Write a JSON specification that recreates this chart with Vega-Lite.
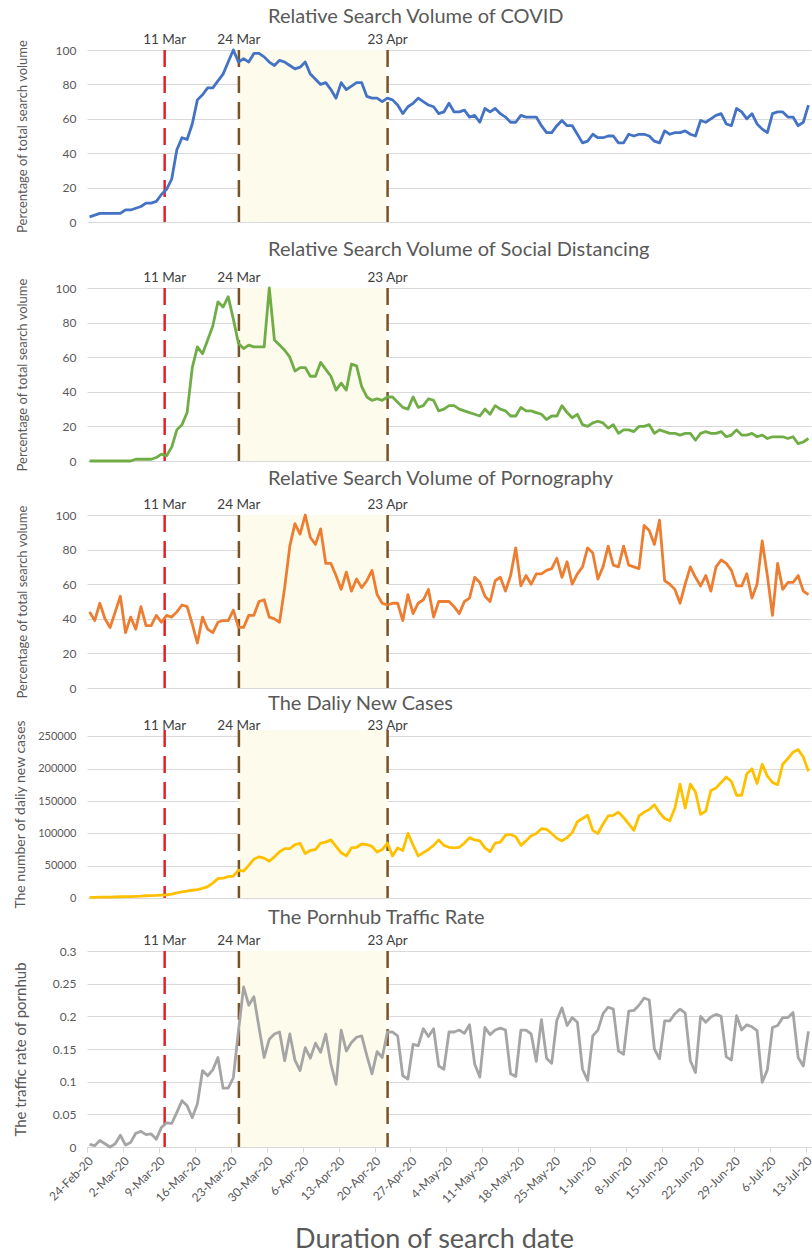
{
"$schema": "https://vega.github.io/schema/vega-lite/v6.json",
"background": "white",
"padding": {"left": 12, "top": 7, "right": 0, "bottom": 0},
"spacing": -5,
"config": {"font": "Lato", "view": {"stroke": null}},
"datasets": {
"events": [
{"label": "11 Mar", "at": "2020-03-10T03:00:00", "kind": "red"},
{"label": "24 Mar", "at": "2020-03-24T14:00:00", "kind": "brown"},
{"label": "23 Apr", "at": "2020-04-22T13:00:00", "kind": "brown"}
],
"shade": [{"start": "2020-03-24T14:00:00", "end": "2020-04-22T13:00:00"}],
"series": [
{"date":"2020-02-24","covid":3,"social":0,"porn":44,"cases":1000,"traffic":0.004},
{"date":"2020-02-25","covid":4,"social":0,"porn":39,"cases":1000,"traffic":0.002},
{"date":"2020-02-26","covid":5,"social":0,"porn":49,"cases":1200,"traffic":0.010},
{"date":"2020-02-27","covid":5,"social":0,"porn":40,"cases":1300,"traffic":0.005},
{"date":"2020-02-28","covid":5,"social":0,"porn":35,"cases":1500,"traffic":0.000},
{"date":"2020-02-29","covid":5,"social":0,"porn":44,"cases":1700,"traffic":0.005},
{"date":"2020-03-01","covid":5,"social":0,"porn":53,"cases":1900,"traffic":0.018},
{"date":"2020-03-02","covid":7,"social":0,"porn":32,"cases":2000,"traffic":0.003},
{"date":"2020-03-03","covid":7,"social":0,"porn":41,"cases":2100,"traffic":0.007},
{"date":"2020-03-04","covid":8,"social":1,"porn":34,"cases":2500,"traffic":0.021},
{"date":"2020-03-05","covid":9,"social":1,"porn":47,"cases":2800,"traffic":0.024},
{"date":"2020-03-06","covid":11,"social":1,"porn":36,"cases":3500,"traffic":0.019},
{"date":"2020-03-07","covid":11,"social":1,"porn":36,"cases":3700,"traffic":0.020},
{"date":"2020-03-08","covid":12,"social":2,"porn":42,"cases":4000,"traffic":0.012},
{"date":"2020-03-09","covid":16,"social":4,"porn":38,"cases":4500,"traffic":0.030},
{"date":"2020-03-10","covid":19,"social":3,"porn":42,"cases":4700,"traffic":0.037},
{"date":"2020-03-11","covid":25,"social":8,"porn":41,"cases":6000,"traffic":0.036},
{"date":"2020-03-12","covid":42,"social":18,"porn":44,"cases":8000,"traffic":0.053},
{"date":"2020-03-13","covid":49,"social":21,"porn":48,"cases":9500,"traffic":0.071},
{"date":"2020-03-14","covid":48,"social":28,"porn":47,"cases":10500,"traffic":0.063},
{"date":"2020-03-15","covid":57,"social":54,"porn":37,"cases":12000,"traffic":0.045},
{"date":"2020-03-16","covid":71,"social":66,"porn":26,"cases":13000,"traffic":0.066},
{"date":"2020-03-17","covid":74,"social":62,"porn":41,"cases":15000,"traffic":0.117},
{"date":"2020-03-18","covid":78,"social":70,"porn":34,"cases":17500,"traffic":0.109},
{"date":"2020-03-19","covid":78,"social":78,"porn":32,"cases":23000,"traffic":0.118},
{"date":"2020-03-20","covid":82,"social":92,"porn":38,"cases":30000,"traffic":0.137},
{"date":"2020-03-21","covid":86,"social":89,"porn":39,"cases":30600,"traffic":0.090},
{"date":"2020-03-22","covid":93,"social":95,"porn":39,"cases":33000,"traffic":0.090},
{"date":"2020-03-23","covid":100,"social":82,"porn":45,"cases":34000,"traffic":0.106},
{"date":"2020-03-24","covid":93,"social":68,"porn":35,"cases":43000,"traffic":0.178},
{"date":"2020-03-25","covid":95,"social":65,"porn":35,"cases":41500,"traffic":0.245},
{"date":"2020-03-26","covid":93,"social":67,"porn":42,"cases":50400,"traffic":0.217},
{"date":"2020-03-27","covid":98,"social":66,"porn":42,"cases":60000,"traffic":0.230},
{"date":"2020-03-28","covid":98,"social":66,"porn":50,"cases":63700,"traffic":0.183},
{"date":"2020-03-29","covid":96,"social":66,"porn":51,"cases":61750,"traffic":0.137},
{"date":"2020-03-30","covid":93,"social":100,"porn":41,"cases":56800,"traffic":0.165},
{"date":"2020-03-31","covid":91,"social":70,"porn":40,"cases":63700,"traffic":0.173},
{"date":"2020-04-01","covid":94,"social":67,"porn":38,"cases":71600,"traffic":0.176},
{"date":"2020-04-02","covid":93,"social":64,"porn":58,"cases":76500,"traffic":0.132},
{"date":"2020-04-03","covid":91,"social":60,"porn":82,"cases":76500,"traffic":0.173},
{"date":"2020-04-04","covid":89,"social":52,"porn":95,"cases":82500,"traffic":0.133},
{"date":"2020-04-05","covid":90,"social":54,"porn":89,"cases":84500,"traffic":0.117},
{"date":"2020-04-06","covid":93,"social":54,"porn":100,"cases":68700,"traffic":0.152},
{"date":"2020-04-07","covid":86,"social":49,"porn":87,"cases":73600,"traffic":0.136},
{"date":"2020-04-08","covid":83,"social":49,"porn":83,"cases":75000,"traffic":0.159},
{"date":"2020-04-09","covid":80,"social":57,"porn":92,"cases":85000,"traffic":0.145},
{"date":"2020-04-10","covid":81,"social":53,"porn":72,"cases":86500,"traffic":0.173},
{"date":"2020-04-11","covid":77,"social":49,"porn":72,"cases":90000,"traffic":0.127},
{"date":"2020-04-12","covid":72,"social":41,"porn":65,"cases":80000,"traffic":0.096},
{"date":"2020-04-13","covid":81,"social":45,"porn":57,"cases":70000,"traffic":0.179},
{"date":"2020-04-14","covid":77,"social":41,"porn":67,"cases":65200,"traffic":0.147},
{"date":"2020-04-15","covid":79,"social":56,"porn":56,"cases":77500,"traffic":0.160},
{"date":"2020-04-16","covid":81,"social":55,"porn":63,"cases":78500,"traffic":0.168},
{"date":"2020-04-17","covid":81,"social":43,"porn":58,"cases":83500,"traffic":0.170},
{"date":"2020-04-18","covid":73,"social":37,"porn":62,"cases":82500,"traffic":0.140},
{"date":"2020-04-19","covid":72,"social":35,"porn":68,"cases":80000,"traffic":0.112},
{"date":"2020-04-20","covid":72,"social":36,"porn":54,"cases":71000,"traffic":0.146},
{"date":"2020-04-21","covid":70,"social":35,"porn":49,"cases":75000,"traffic":0.137},
{"date":"2020-04-22","covid":72,"social":37,"porn":48,"cases":85000,"traffic":0.176},
{"date":"2020-04-23","covid":71,"social":37,"porn":49,"cases":65200,"traffic":0.176},
{"date":"2020-04-24","covid":68,"social":34,"porn":49,"cases":77500,"traffic":0.170},
{"date":"2020-04-25","covid":63,"social":31,"porn":39,"cases":73600,"traffic":0.109},
{"date":"2020-04-26","covid":67,"social":30,"porn":54,"cases":100000,"traffic":0.104},
{"date":"2020-04-27","covid":69,"social":37,"porn":43,"cases":82000,"traffic":0.157},
{"date":"2020-04-28","covid":72,"social":31,"porn":49,"cases":65200,"traffic":0.155},
{"date":"2020-04-29","covid":70,"social":32,"porn":51,"cases":70200,"traffic":0.181},
{"date":"2020-04-30","covid":68,"social":36,"porn":57,"cases":75100,"traffic":0.169},
{"date":"2020-05-01","covid":67,"social":35,"porn":41,"cases":81500,"traffic":0.181},
{"date":"2020-05-02","covid":63,"social":29,"porn":50,"cases":89900,"traffic":0.124},
{"date":"2020-05-03","covid":64,"social":30,"porn":50,"cases":81500,"traffic":0.119},
{"date":"2020-05-04","covid":69,"social":32,"porn":50,"cases":78500,"traffic":0.176},
{"date":"2020-05-05","covid":64,"social":32,"porn":47,"cases":77600,"traffic":0.176},
{"date":"2020-05-06","covid":64,"social":30,"porn":43,"cases":78500,"traffic":0.179},
{"date":"2020-05-07","covid":65,"social":29,"porn":50,"cases":85000,"traffic":0.174},
{"date":"2020-05-08","covid":61,"social":28,"porn":52,"cases":93400,"traffic":0.187},
{"date":"2020-05-09","covid":62,"social":27,"porn":64,"cases":89900,"traffic":0.127},
{"date":"2020-05-10","covid":58,"social":26,"porn":61,"cases":88400,"traffic":0.107},
{"date":"2020-05-11","covid":66,"social":30,"porn":53,"cases":77600,"traffic":0.183},
{"date":"2020-05-12","covid":64,"social":27,"porn":50,"cases":71600,"traffic":0.172},
{"date":"2020-05-13","covid":66,"social":32,"porn":62,"cases":85000,"traffic":0.179},
{"date":"2020-05-14","covid":63,"social":30,"porn":64,"cases":86500,"traffic":0.182},
{"date":"2020-05-15","covid":61,"social":29,"porn":56,"cases":97300,"traffic":0.179},
{"date":"2020-05-16","covid":58,"social":26,"porn":65,"cases":98300,"traffic":0.112},
{"date":"2020-05-17","covid":58,"social":26,"porn":81,"cases":94800,"traffic":0.108},
{"date":"2020-05-18","covid":62,"social":31,"porn":59,"cases":81500,"traffic":0.179},
{"date":"2020-05-19","covid":61,"social":29,"porn":65,"cases":88400,"traffic":0.179},
{"date":"2020-05-20","covid":61,"social":29,"porn":60,"cases":96300,"traffic":0.173},
{"date":"2020-05-21","covid":61,"social":28,"porn":66,"cases":99800,"traffic":0.131},
{"date":"2020-05-22","covid":56,"social":27,"porn":66,"cases":107200,"traffic":0.195},
{"date":"2020-05-23","covid":52,"social":24,"porn":68,"cases":106200,"traffic":0.136},
{"date":"2020-05-24","covid":52,"social":26,"porn":69,"cases":99800,"traffic":0.128},
{"date":"2020-05-25","covid":56,"social":26,"porn":75,"cases":92400,"traffic":0.194},
{"date":"2020-05-26","covid":59,"social":32,"porn":64,"cases":88400,"traffic":0.213},
{"date":"2020-05-27","covid":56,"social":28,"porn":73,"cases":93400,"traffic":0.186},
{"date":"2020-05-28","covid":56,"social":25,"porn":60,"cases":101300,"traffic":0.198},
{"date":"2020-05-29","covid":51,"social":27,"porn":66,"cases":118100,"traffic":0.191},
{"date":"2020-05-30","covid":46,"social":21,"porn":70,"cases":123000,"traffic":0.119},
{"date":"2020-05-31","covid":47,"social":20,"porn":81,"cases":128000,"traffic":0.102},
{"date":"2020-06-01","covid":51,"social":22,"porn":78,"cases":104700,"traffic":0.170},
{"date":"2020-06-02","covid":49,"social":23,"porn":63,"cases":99800,"traffic":0.179},
{"date":"2020-06-03","covid":49,"social":22,"porn":70,"cases":114600,"traffic":0.204},
{"date":"2020-06-04","covid":50,"social":19,"porn":82,"cases":127000,"traffic":0.214},
{"date":"2020-06-05","covid":50,"social":21,"porn":71,"cases":128000,"traffic":0.211},
{"date":"2020-06-06","covid":46,"social":16,"porn":70,"cases":132900,"traffic":0.147},
{"date":"2020-06-07","covid":46,"social":18,"porn":82,"cases":124500,"traffic":0.142},
{"date":"2020-06-08","covid":51,"social":18,"porn":71,"cases":114600,"traffic":0.208},
{"date":"2020-06-09","covid":50,"social":17,"porn":70,"cases":104700,"traffic":0.209},
{"date":"2020-06-10","covid":51,"social":20,"porn":69,"cases":127000,"traffic":0.217},
{"date":"2020-06-11","covid":51,"social":20,"porn":94,"cases":132900,"traffic":0.228},
{"date":"2020-06-12","covid":50,"social":21,"porn":91,"cases":137000,"traffic":0.225},
{"date":"2020-06-13","covid":47,"social":16,"porn":83,"cases":144300,"traffic":0.150},
{"date":"2020-06-14","covid":46,"social":18,"porn":97,"cases":131900,"traffic":0.135},
{"date":"2020-06-15","covid":53,"social":17,"porn":62,"cases":123000,"traffic":0.193},
{"date":"2020-06-16","covid":51,"social":16,"porn":60,"cases":119500,"traffic":0.193},
{"date":"2020-06-17","covid":52,"social":16,"porn":57,"cases":139300,"traffic":0.204},
{"date":"2020-06-18","covid":52,"social":15,"porn":49,"cases":176300,"traffic":0.211},
{"date":"2020-06-19","covid":53,"social":16,"porn":60,"cases":139300,"traffic":0.205},
{"date":"2020-06-20","covid":51,"social":16,"porn":70,"cases":176300,"traffic":0.132},
{"date":"2020-06-21","covid":50,"social":12,"porn":64,"cases":164000,"traffic":0.114},
{"date":"2020-06-22","covid":59,"social":16,"porn":59,"cases":129400,"traffic":0.200},
{"date":"2020-06-23","covid":58,"social":17,"porn":65,"cases":134400,"traffic":0.191},
{"date":"2020-06-24","covid":60,"social":16,"porn":56,"cases":166500,"traffic":0.199},
{"date":"2020-06-25","covid":62,"social":16,"porn":70,"cases":170400,"traffic":0.203},
{"date":"2020-06-26","covid":63,"social":17,"porn":74,"cases":178800,"traffic":0.200},
{"date":"2020-06-27","covid":57,"social":14,"porn":72,"cases":187200,"traffic":0.138},
{"date":"2020-06-28","covid":56,"social":15,"porn":68,"cases":180300,"traffic":0.133},
{"date":"2020-06-29","covid":66,"social":18,"porn":59,"cases":159000,"traffic":0.201},
{"date":"2020-06-30","covid":64,"social":15,"porn":59,"cases":159000,"traffic":0.179},
{"date":"2020-07-01","covid":60,"social":15,"porn":66,"cases":192100,"traffic":0.187},
{"date":"2020-07-02","covid":63,"social":16,"porn":52,"cases":200000,"traffic":0.184},
{"date":"2020-07-03","covid":57,"social":14,"porn":60,"cases":177300,"traffic":0.178},
{"date":"2020-07-04","covid":54,"social":15,"porn":85,"cases":207000,"traffic":0.099},
{"date":"2020-07-05","covid":52,"social":13,"porn":65,"cases":188700,"traffic":0.118},
{"date":"2020-07-06","covid":63,"social":14,"porn":42,"cases":178800,"traffic":0.183},
{"date":"2020-07-07","covid":64,"social":14,"porn":72,"cases":175400,"traffic":0.186},
{"date":"2020-07-08","covid":64,"social":14,"porn":57,"cases":207000,"traffic":0.198},
{"date":"2020-07-09","covid":61,"social":13,"porn":61,"cases":215800,"traffic":0.198},
{"date":"2020-07-10","covid":61,"social":14,"porn":61,"cases":225700,"traffic":0.206},
{"date":"2020-07-11","covid":56,"social":10,"porn":65,"cases":229700,"traffic":0.137},
{"date":"2020-07-12","covid":58,"social":11,"porn":56,"cases":218300,"traffic":0.124},
{"date":"2020-07-13","covid":68,"social":13,"porn":54,"cases":196100,"traffic":0.177}
]
},
"vconcat": [
{
"width": 724, "height": 172,
"title": {"text": "Relative Search Volume of COVID", "anchor": "start", "frame": "group", "dx": 181, "offset": -10, "baseline": "alphabetic", "font": "Lato", "fontSize": 20, "fontWeight": "normal", "color": "#595959"},
"layer": [
{"data": {"name": "shade"}, "mark": {"type": "rect", "color": "#FDFCEC"},
 "encoding": {"x": {"field": "start", "type": "temporal", "scale": {"domain": [{"year":2020,"month":2,"date":24},{"year":2020,"month":7,"date":14}]}, "axis": {"labels": false, "ticks": false, "domain": false, "grid": false, "title": null, "minExtent": 23, "maxExtent": 23}}, "x2": {"field": "end"}}},
{"data": {"name": "events"}, "mark": {"type": "rule", "strokeDash": [17, 9], "strokeWidth": 2.5},
 "encoding": {"x": {"field": "at", "type": "temporal", "axis": {"labels": false, "ticks": false, "domain": false, "grid": false, "title": null, "minExtent": 23, "maxExtent": 23}}, "color": {"field": "kind", "type": "nominal", "scale": {"domain": ["red", "brown"], "range": ["#E3212B", "#7B5225"]}, "legend": null}}},
{"data": {"name": "series"}, "mark": {"type": "line", "color": "#4472C4", "strokeWidth": 2.8, "strokeJoin": "round"},
 "encoding": {
  "x": {"field": "date", "type": "temporal", "timeUnit": "yearmonthdate", "bandPosition": 0.5,
        "axis": {"labels": false, "ticks": false, "domain": false, "grid": false, "title": null, "minExtent": 23, "maxExtent": 23}},
  "y": {"field": "covid", "type": "quantitative", "scale": {"domain": [0, 100]},
        "axis": {"title": "Percentage of total search volume", "values": [0,20,40,60,80,100], "tickCount": 20, "labelOverlap": false, "ticks": false, "domain": false, "gridColor": "#D9D9D9", "labelFont": "Lato", "labelFontSize": 12, "labelColor": "#595959", "labelPadding": 11, "titleFont": "Lato", "titleFontSize": 13, "titleFontWeight": "normal", "titleColor": "#595959", "titleX": -65, "titleBaseline": "middle"}}}},
{"data": {"name": "events"}, "mark": {"type": "text", "baseline": "alphabetic", "dy": -6, "font": "Lato", "fontSize": 13.5, "color": "#404040"},
 "encoding": {"x": {"field": "at", "type": "temporal", "axis": {"labels": false, "ticks": false, "domain": false, "grid": false, "title": null, "minExtent": 23, "maxExtent": 23}}, "y": {"datum": 100}, "text": {"field": "label"}}}
]
},
{
"width": 724, "height": 173,
"title": {"text": "Relative Search Volume of Social Distancing", "anchor": "start", "frame": "group", "dx": 181, "offset": -5, "baseline": "alphabetic", "font": "Lato", "fontSize": 20, "fontWeight": "normal", "color": "#595959"},
"layer": [
{"data": {"name": "shade"}, "mark": {"type": "rect", "color": "#FDFCEC"},
 "encoding": {"x": {"field": "start", "type": "temporal", "scale": {"domain": [{"year":2020,"month":2,"date":24},{"year":2020,"month":7,"date":14}]}, "axis": {"labels": false, "ticks": false, "domain": false, "grid": false, "title": null, "minExtent": 13, "maxExtent": 13}}, "x2": {"field": "end"}}},
{"data": {"name": "events"}, "mark": {"type": "rule", "strokeDash": [17, 9], "strokeWidth": 2.5},
 "encoding": {"x": {"field": "at", "type": "temporal", "axis": {"labels": false, "ticks": false, "domain": false, "grid": false, "title": null, "minExtent": 13, "maxExtent": 13}}, "color": {"field": "kind", "type": "nominal", "scale": {"domain": ["red", "brown"], "range": ["#E3212B", "#7B5225"]}, "legend": null}}},
{"data": {"name": "series"}, "mark": {"type": "line", "color": "#70AD47", "strokeWidth": 2.8, "strokeJoin": "round"},
 "encoding": {
  "x": {"field": "date", "type": "temporal", "timeUnit": "yearmonthdate", "bandPosition": 0.5, "axis": {"labels": false, "ticks": false, "domain": false, "grid": false, "title": null, "minExtent": 13, "maxExtent": 13}},
  "y": {"field": "social", "type": "quantitative", "scale": {"domain": [0, 100]},
        "axis": {"title": "Percentage of total search volume", "values": [0,20,40,60,80,100], "tickCount": 20, "labelOverlap": false, "ticks": false, "domain": false, "gridColor": "#D9D9D9", "labelFont": "Lato", "labelFontSize": 12, "labelColor": "#595959", "labelPadding": 11, "titleFont": "Lato", "titleFontSize": 13, "titleFontWeight": "normal", "titleColor": "#595959", "titleX": -65, "titleBaseline": "middle"}}}},
{"data": {"name": "events"}, "mark": {"type": "text", "baseline": "alphabetic", "dy": -6, "font": "Lato", "fontSize": 13.5, "color": "#404040"},
 "encoding": {"x": {"field": "at", "type": "temporal", "axis": {"labels": false, "ticks": false, "domain": false, "grid": false, "title": null, "minExtent": 13, "maxExtent": 13}}, "y": {"datum": 100}, "text": {"field": "label"}}}
]
},
{
"width": 724, "height": 173,
"title": {"text": "Relative Search Volume of Pornography", "anchor": "start", "frame": "group", "dx": 181, "offset": -7, "baseline": "alphabetic", "font": "Lato", "fontSize": 20, "fontWeight": "normal", "color": "#595959"},
"layer": [
{"data": {"name": "shade"}, "mark": {"type": "rect", "color": "#FDFCEC"},
 "encoding": {"x": {"field": "start", "type": "temporal", "scale": {"domain": [{"year":2020,"month":2,"date":24},{"year":2020,"month":7,"date":14}]}, "axis": null}, "x2": {"field": "end"}}},
{"data": {"name": "events"}, "mark": {"type": "rule", "strokeDash": [17, 9], "strokeWidth": 2.5},
 "encoding": {"x": {"field": "at", "type": "temporal", "axis": null}, "color": {"field": "kind", "type": "nominal", "scale": {"domain": ["red", "brown"], "range": ["#E3212B", "#7B5225"]}, "legend": null}}},
{"data": {"name": "series"}, "mark": {"type": "line", "color": "#ED7D31", "strokeWidth": 2.8, "strokeJoin": "round"},
 "encoding": {
  "x": {"field": "date", "type": "temporal", "timeUnit": "yearmonthdate", "bandPosition": 0.5, "axis": null},
  "y": {"field": "porn", "type": "quantitative", "scale": {"domain": [0, 100]},
        "axis": {"title": "Percentage of total search volume", "values": [0,20,40,60,80,100], "tickCount": 20, "labelOverlap": false, "ticks": false, "domain": false, "gridColor": "#D9D9D9", "labelFont": "Lato", "labelFontSize": 12, "labelColor": "#595959", "labelPadding": 11, "titleFont": "Lato", "titleFontSize": 13, "titleFontWeight": "normal", "titleColor": "#595959", "titleX": -65, "titleBaseline": "middle"}}}},
{"data": {"name": "events"}, "mark": {"type": "text", "baseline": "alphabetic", "dy": -6, "font": "Lato", "fontSize": 13.5, "color": "#404040"},
 "encoding": {"x": {"field": "at", "type": "temporal", "axis": null}, "y": {"datum": 100}, "text": {"field": "label"}}}
]
},
{
"width": 724, "height": 168,
"title": {"text": "The Daliy New Cases", "anchor": "start", "frame": "group", "dx": 181, "offset": -11, "baseline": "alphabetic", "font": "Lato", "fontSize": 20, "fontWeight": "normal", "color": "#595959"},
"layer": [
{"data": {"name": "shade"}, "mark": {"type": "rect", "color": "#FDFCEC"},
 "encoding": {"x": {"field": "start", "type": "temporal", "scale": {"domain": [{"year":2020,"month":2,"date":24},{"year":2020,"month":7,"date":14}]}, "axis": {"labels": false, "ticks": false, "domain": false, "grid": false, "title": null, "minExtent": 15, "maxExtent": 15}}, "x2": {"field": "end"}}},
{"data": {"name": "events"}, "mark": {"type": "rule", "strokeDash": [17, 9], "strokeWidth": 2.5},
 "encoding": {"x": {"field": "at", "type": "temporal", "axis": {"labels": false, "ticks": false, "domain": false, "grid": false, "title": null, "minExtent": 15, "maxExtent": 15}}, "color": {"field": "kind", "type": "nominal", "scale": {"domain": ["red", "brown"], "range": ["#E3212B", "#7B5225"]}, "legend": null}}},
{"data": {"name": "series"}, "mark": {"type": "line", "color": "#FFC000", "strokeWidth": 2.8, "strokeJoin": "round"},
 "encoding": {
  "x": {"field": "date", "type": "temporal", "timeUnit": "yearmonthdate", "bandPosition": 0.5, "axis": {"labels": false, "ticks": false, "domain": false, "grid": false, "title": null, "minExtent": 15, "maxExtent": 15}},
  "y": {"field": "cases", "type": "quantitative", "scale": {"domain": [0, 250000]},
        "axis": {"title": "The number of daliy new cases", "values": [0,50000,100000,150000,200000,250000], "tickCount": 20, "format": "d", "labelOverlap": false, "ticks": false, "domain": false, "gridColor": "#D9D9D9", "labelFont": "Lato", "labelFontSize": 11, "labelColor": "#595959", "labelPadding": 11, "titleFont": "Lato", "titleFontSize": 14, "titleFontWeight": "normal", "titleColor": "#595959", "titleX": -67, "titleBaseline": "middle"}}}},
{"data": {"name": "events"}, "mark": {"type": "text", "baseline": "alphabetic", "dy": -6, "font": "Lato", "fontSize": 13.5, "color": "#404040"},
 "encoding": {"x": {"field": "at", "type": "temporal", "axis": {"labels": false, "ticks": false, "domain": false, "grid": false, "title": null, "minExtent": 15, "maxExtent": 15}}, "y": {"datum": 250000}, "text": {"field": "label"}}}
]
},
{
"width": 724, "height": 196,
"title": {"text": "The Pornhub Traffic Rate", "anchor": "start", "frame": "group", "dx": 181, "offset": -10, "baseline": "alphabetic", "font": "Lato", "fontSize": 20, "fontWeight": "normal", "color": "#595959"},
"layer": [
{"data": {"name": "shade"}, "mark": {"type": "rect", "color": "#FDFCEC"},
 "encoding": {"x": {"field": "start", "type": "temporal", "scale": {"domain": [{"year":2020,"month":2,"date":24},{"year":2020,"month":7,"date":14}]},
        "axis": {"values": [{"year":2020,"month":2,"date":24},{"year":2020,"month":3,"date":2},{"year":2020,"month":3,"date":9},{"year":2020,"month":3,"date":16},{"year":2020,"month":3,"date":23},{"year":2020,"month":3,"date":30},{"year":2020,"month":4,"date":6},{"year":2020,"month":4,"date":13},{"year":2020,"month":4,"date":20},{"year":2020,"month":4,"date":27},{"year":2020,"month":5,"date":4},{"year":2020,"month":5,"date":11},{"year":2020,"month":5,"date":18},{"year":2020,"month":5,"date":25},{"year":2020,"month":6,"date":1},{"year":2020,"month":6,"date":8},{"year":2020,"month":6,"date":15},{"year":2020,"month":6,"date":22},{"year":2020,"month":6,"date":29},{"year":2020,"month":7,"date":6},{"year":2020,"month":7,"date":13}],
                 "tickCount": 40, "format": "%-d-%b-%y", "labelAngle": -45, "labelFlush": false, "labelOverlap": false, "labelFont": "Lato", "labelFontSize": 12, "labelColor": "#595959", "labelPadding": 3,
                 "ticks": true, "tickColor": "#D9D9D9", "tickSize": 5, "domain": true, "domainColor": "#D9D9D9", "grid": false,
                 "title": "Duration of search date", "titleFont": "Lato", "titleFontSize": 27, "titleFontWeight": "normal", "titleColor": "#595959", "titleX": 347, "titleY": 100, "titleBaseline": "alphabetic", "titleAlign": "center", "titleAnchor": "middle"}}, "x2": {"field": "end"}}},
{"data": {"name": "events"}, "mark": {"type": "rule", "strokeDash": [17, 9], "strokeWidth": 2.5},
 "encoding": {"x": {"field": "at", "type": "temporal"}, "color": {"field": "kind", "type": "nominal", "scale": {"domain": ["red", "brown"], "range": ["#E3212B", "#7B5225"]}, "legend": null}}},
{"data": {"name": "series"}, "mark": {"type": "line", "color": "#A5A5A5", "strokeWidth": 2.8, "strokeJoin": "round"},
 "encoding": {
  "x": {"field": "date", "type": "temporal", "timeUnit": "yearmonthdate", "bandPosition": 0.5},
  "y": {"field": "traffic", "type": "quantitative", "scale": {"domain": [0, 0.3]},
        "axis": {"title": "The traffic rate of pornhub", "values": [0,0.05,0.1,0.15,0.2,0.25,0.3], "tickCount": 20, "format": ".2~f", "labelOverlap": false, "ticks": false, "domain": false, "gridColor": "#D9D9D9", "labelFont": "Lato", "labelFontSize": 12, "labelColor": "#595959", "labelPadding": 11, "titleFont": "Lato", "titleFontSize": 15, "titleFontWeight": "normal", "titleColor": "#595959", "titleX": -67, "titleBaseline": "middle"}}}},
{"data": {"name": "events"}, "mark": {"type": "text", "baseline": "alphabetic", "dy": -6, "font": "Lato", "fontSize": 13.5, "color": "#404040"},
 "encoding": {"x": {"field": "at", "type": "temporal"}, "y": {"datum": 0.3}, "text": {"field": "label"}}}
]
}
]
}
